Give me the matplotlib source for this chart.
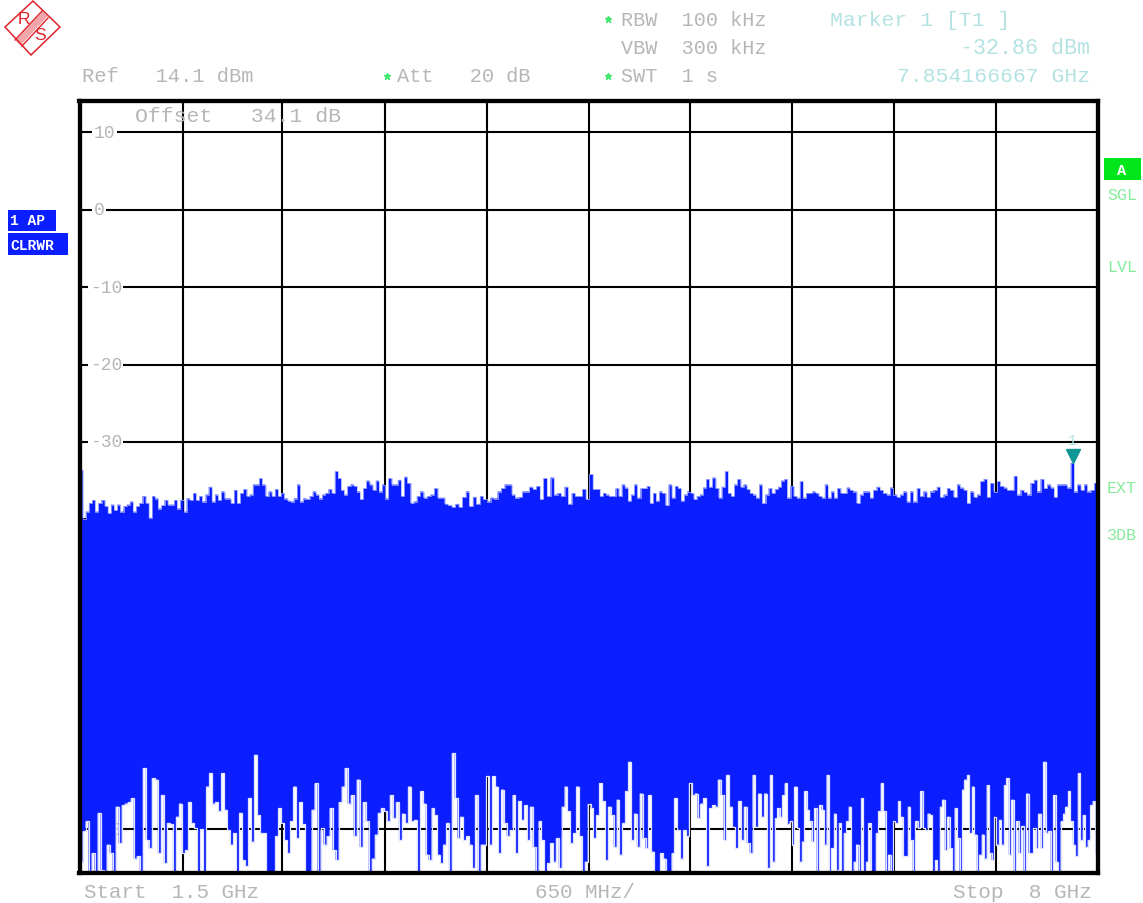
import numpy as np
import matplotlib
matplotlib.use('Agg')
import matplotlib.pyplot as plt
from matplotlib.patches import Polygon, Rectangle

# sweep, in dBm, split in stretches between these frequencies
upper_edges = [1.5, 3.674, 4.823, 6.419, 8.0]
lower_edges = [1.5, 3.674, 5.908, 8.0]

upper_a = [-33.6,-40,-39,-37.9,-37.5,-39,-37.9,-37.5,-38.3,-39.2,-38.1,-38.8,-38.1,-39,-38.3,-38.1,-37.7,-39,-38.3,-37.9,-37,-37.9,-39.8,-37,-37.3,-38.6,-38.2,-37.5,-38.1,-38.1,-37.5,-38.6,-37.5,-39,-37.3,-37.5,-36.6,-37.5,-37,-37.7,-36.8,-35.8,-37.7,-36.8,-37.5,-36.4,-37.3,-37.3,-37.9,-36.2,-37.9,-36.6,-36.1,-37,-36.8,-35.5,-35.5,-34.7,-35.5,-37,-36.4,-37,-36.1,-37,-36.6,-37.3,-37.6,-37.7,-37.3,-35.5,-37.7,-37.3,-37.4,-37,-36.4,-36.8,-37.3,-36.8,-36.6,-36.1,-36.6,-33.8,-34.7,-36.2,-36.8,-35.7,-35.5,-35.7,-36.4,-37.4,-36,-35,-35.5,-36.2,-35,-36.4,-35.5,-37.3,-34.7,-35.5,-35.5,-34.9,-37,-34.5,-35.3,-37.9,-37.7,-37]
upper_b = [-36.4,-37.2,-37,-36.8,-36,-37.2,-37.2,-38,-38.2,-38.4,-38,-38.4,-37.1,-36.4,-38.3,-37.1,-38,-37,-37.4,-37.7,-37.2,-37.3,-36.4,-36,-35.5,-35.5,-36.8,-37.2,-37.1,-36.4,-36.4,-35.8,-36.1,-35.7,-37.4,-34.7,-37,-34.6,-36.8,-36.6,-37,-35.8,-38,-36.6,-37,-37,-36.1,-37.4,-34.2,-36.1,-36.1]
upper_c = [-37,-36.6,-36.8,-37,-37,-36,-37,-35.5,-35.9,-37.6,-36.8,-35.5,-37.2,-36,-36,-35.7,-37.9,-36.6,-37.6,-36.4,-36.6,-38.2,-35.5,-37.2,-35.7,-36,-37.6,-36.8,-36.4,-36.6,-37.4,-37,-36.8,-35.9,-34.8,-35.8,-34.6,-36,-37.2,-35.8,-33.8,-36.6,-37,-35.5,-34.8,-35.8,-35.5,-36.1,-36.6,-36.8,-37.2,-35.5,-37.9,-36.8,-36,-36.6,-36.1,-35.8,-35,-34.8,-37.2,-35.7,-37,-37.2,-35.1,-37.2,-36.6,-36.6,-36.4,-36.6,-37,-37.2,-35.5,-37.2,-36.4,-37.2,-36,-36.6,-36.6,-35.9]
upper_d = [-36.2,-36.4,-37.9,-36.8,-36.4,-36.4,-37.2,-36.2,-35.8,-36.2,-36.6,-36.8,-35.9,-36.8,-37.1,-36.8,-36.4,-37.7,-36.4,-37.7,-36,-37,-36.4,-37.1,-36.4,-36.2,-35.8,-37.1,-36.8,-36,-36.2,-37.1,-35.5,-35.9,-36.2,-37.9,-36.4,-37.1,-36.8,-35.1,-34.8,-37.1,-35.3,-36.4,-35.1,-35.7,-35.9,-36.2,-36.2,-34.4,-36.8,-36.2,-36.5,-36.8,-35.3,-34.9,-36.4,-34.8,-36,-35.5,-35.9,-37.1,-35.5,-35.5,-35.5,-35.9,-32.7,-36.4,-35.5,-36.2,-35.5,-36.4,-36.2,-35.3]

lower_a = [-84.2,-80.3,-79,-85.9,-83.1,-85.9,-77.9,-85.3,-85.9,-82,-83.1,-85.9,-77.1,-81.8,-76.9,-76.7,-76.5,-76,-83.8,-83.5,-85.9,-72.1,-81.4,-82.5,-73.4,-73.6,-83.1,-75.6,-84.4,-79.2,-79.4,-85.9,-78.4,-76.7,-83.1,-82.7,-76.5,-79.2,-79.9,-85.9,-80,-85.9,-74.5,-72.8,-76.7,-76.5,-77.7,-72.8,-77.5,-80.1,-82,-80.5,-85.9,-77.9,-84,-84.8,-76,-81.6,-70.4,-78.2,-80.5,-80.5,-85.5,-85.9,-85.9,-80.9,-77.3,-79.2,-81.4,-83.1,-79,-74.5,-81.2,-76.5,-79.4,-85.9,-85.9,-77.5,-74.1,-85.9,-79.9,-82,-80.9,-77.3,-82.7,-84,-76.5,-74.5,-72.1,-76.7,-75.6,-80.9,-73.6,-82.3,-76.5,-79,-85.9,-83.8,-80.7,-77.9,-77.3,-77.7,-79,-75.6,-78.6,-76.5,-81.4,-78,-79.2,-74.5,-79,-78.8,-85.9]
lower_b = [-75.1,-76.7,-83.3,-84,-77.3,-78.2,-83.3,-84.4,-82,-79.2,-85.9,-70.2,-76,-81.2,-78.4,-81.4,-80.9,-82,-85,-75.6,-85.9,-82,-82,-73.2,-82,-73.2,-74.5,-83.1,-74.9,-79.2,-80.9,-80.1,-75.6,-83.1,-76.4,-78.8,-76.9,-81.4,-77.1,-82.3,-85.9,-79,-81.4,-85.9,-84.4,-81.8,-84.2,-81.2,-85,-77.1,-74.5,-77.7,-81.8,-80.5,-74.5,-80.9,-85.9,-84.2,-76.7,-77.3,-81.2,-78.2,-74.1,-76.4,-84,-77.1,-78.2,-82.3,-76.2,-83.3,-79.2,-75.1,-71.3,-81.4,-78,-82.3,-75.4,-81.2,-82.5,-75.6,-82.9,-85.9,-85.9,-83.1,-83.8,-85.9,-85.9,-83.1,-76,-80.1,-83.8,-80.1,-80.9,-74.1,-75.6,-75.4,-78.6,-76.7,-76,-84.8,-77.3,-76.9,-77.1,-73.6,-75.6,-81.4,-73,-77.1,-79.7,-82.5,-76.4,-81.4,-77.1,-81.8,-83.1,-73,-79.7,-75.4,-78.4,-75.4,-85]
lower_c = [-73,-84.2,-78.6,-77.3,-78.4,-75.6,-74.1,-79.4,-79,-82,-74.5,-79.9,-84.2,-81.6,-75.1,-77.5,-79,-81.6,-77.3,-85.9,-76.9,-77.5,-82,-73,-85.9,-82.5,-78,-85.3,-79.2,-85.9,-80.5,-79,-77.1,-85.9,-84.2,-82,-85.9,-76,-85.9,-84.2,-79.2,-85.9,-85.9,-80.5,-77.7,-74.1,-77.7,-85.9,-83.3,-85.9,-79,-79.2,-76.4,-78.4,-83.5,-83.5,-77.1,-81.4,-85.9,-79,-79.9,-75.1,-79.9,-80.1,-78,-78.2,-85.9,-84,-85.9,-77.1,-76.2,-82.7,-78.4,-82.5,-85.9,-77.3,-81.2,-85.9,-74.9,-73.6,-73,-80.5,-74.5,-80.7,-85.9,-83.3,-80.7,-83.8,-74.3,-83.1,-84,-78.4,-82,-78.8,-82,-74.3,-73.4,-83.3,-76.2,-85.9,-79,-83.1,-79.6,-85.9,-75.4,-83.1,-83.1,-79.9,-82.5,-78,-82.5,-71.3,-80.5,-80.3,-85.9,-75.6,-84.2,-85.9,-79,-78,-77.1,-75.1,-79,-82,-83.5,-72.8,-81.4,-78.2,-82.3,-81.4,-76.9,-76.4,-83.1]

upper_parts = [upper_a, upper_b, upper_c, upper_d]
lower_parts = [lower_a, lower_b, lower_c]

# the grid as it sits on this screen
grid_ghz = [2.16, 2.79, 3.45, 4.10, 4.75, 5.40, 6.05, 6.70, 7.35]
level_ticks = [10, 0, -10, -20, -30, -40, -50, -60, -70, -80]
level_names = ['10', '0', '-10', '-20', '-30', '-40', '-50', '-60', '-70', '-80']
marker_ghz = 7.845
marker_db = -32.86

MONO = 'Liberation Mono'
GREY = '#b6b6b6'
TEAL = '#b4e2e2'
LIME = '#86ec9c'
BLUE = '#0a1eff'


def stair(parts, edges):
    xs, ys = [], []
    for k, vals in enumerate(parts):
        ends = np.linspace(edges[k], edges[k + 1], len(vals) + 1)
        xs.append(np.repeat(ends, 2)[1:-1])
        ys.append(np.repeat(vals, 2))
    return np.concatenate(xs), np.concatenate(ys)


fig = plt.figure(figsize=(11.43, 9.04), dpi=100, facecolor='white')
ax = fig.add_axes([79.5 / 1143, 1 - 873.5 / 904, 1018 / 1143, 772 / 904])
ax.set_xlim(1.5, 8)
ax.set_ylim(-85.6, 14.1)
ax.set_xticks(grid_ghz)
ax.set_yticks(level_ticks)
ax.tick_params(length=0, labelbottom=False, labelleft=False)
ax.grid(True, color='black', lw=1.5, zorder=1)
ax.set_axisbelow(True)
for s in ax.spines.values():
    s.set_linewidth(3.1)
    s.set_zorder(6)

for val, name in zip(level_ticks, level_names):
    x_txt = 1.59 if val >= 0 else 1.565
    ax.text(x_txt, val, name, family=MONO, fontsize=13, color=GREY, va='center', ha='left',
            zorder=2, bbox=dict(fc='white', ec='none', pad=1.0))

# trace: blue between the lower and the upper stairs
xu, yu = stair(upper_parts, upper_edges)
xl, yl = stair(lower_parts, lower_edges)
outline = np.vstack([np.column_stack([xu, yu]), np.column_stack([xl[::-1], yl[::-1]])])
ax.add_patch(Polygon(outline, closed=True, fc=BLUE, ec='none', zorder=3))
# pale rim on the trace edges, the screenshot is soft there
ax.plot(xu, yu, color='#aab4ff', lw=0.5, zorder=3.4)
ax.plot(xl, yl, color='#dfe3ff', lw=0.9, zorder=3.4)

ax.plot([marker_ghz], [marker_db + 1.0], marker='v', ms=10, color='#0f9594', ls='none', zorder=5, clip_on=False)
ax.text(marker_ghz - 0.005, -29.7, '1', family=MONO, fontsize=11, color=TEAL, ha='center', va='center', zorder=5)

# everything around the screen, in pixels
top = fig.add_axes([0, 0, 1, 1], facecolor='none', zorder=10)
top.set_xlim(0, 1143)
top.set_ylim(904, 0)
top.axis('off')


def label(x, y, s, color=GREY, ha='left', size=15, **kw):
    top.text(x, y, s, family=MONO, fontsize=size, color=color, ha=ha, va='center', **kw)


label(82, 77, 'Ref   14.1 dBm', size=14.8)
label(397, 77, 'Att   20 dB', size=14.6)
label(621, 20, 'RBW  100 kHz', size=14.5)
label(621, 49, 'VBW  300 kHz', size=14.5)
label(621, 77, 'SWT  1 s', size=14.5)
for yy, xx in [(20, 608), (77, 608), (77, 387)]:
    top.plot([xx], [yy], marker='*', ms=5, color='#3fe86a', ls='none')

label(830, 21, 'Marker 1 [T1 ]', TEAL, size=15.4)
label(1090, 49, '-32.86 dBm', TEAL, ha='right', size=15.6)
label(1090, 77, '7.854166667 GHz', TEAL, ha='right', size=15.4)
label(135, 116, 'Offset   34.1 dB', size=15.4)

label(84, 893, 'Start  1.5 GHz')
label(535, 893, '650 MHz/', size=15)
label(1092, 893, 'Stop  8 GHz', ha='right', size=15.2)

for yy, s in [(195, 'SGL'), (268, 'LVL'), (489, 'EXT'), (536, '3DB')]:
    label(1122, yy, s, LIME, ha='center', size=12)

top.add_patch(Rectangle((1104, 159), 37, 22, fc='#00e61a', ec='none'))
label(1122, 171, 'A', 'white', ha='center', size=11, weight='bold')

top.add_patch(Rectangle((8, 211), 48, 21, fc=BLUE, ec='none'))
top.add_patch(Rectangle((8, 234), 60, 22, fc=BLUE, ec='none'))
label(10, 221, '1 AP', 'white', size=10.5, weight='bold')
label(10, 246, 'CLRWR', 'white', size=10.5, weight='bold')

# R&S logo
RED = '#e0222c'
top.add_patch(Polygon([(33, 2), (60, 28), (31, 56), (5, 28)], closed=True, fc='white', ec=RED, lw=1.1))
top.plot([15, 42], [41, 12], color=RED, lw=1.0)
top.plot([22, 48], [47, 19], color=RED, lw=1.0)
top.plot([18, 45], [44, 15], color=RED, lw=5.0, alpha=0.4, solid_capstyle='butt')
top.text(24, 20, 'R', family='Liberation Sans', fontsize=12.5, color=RED, ha='center', va='center')
top.text(40, 36, 'S', family='Liberation Sans', fontsize=12.5, color=RED, ha='center', va='center')

fig.savefig('out.png', dpi=100)
